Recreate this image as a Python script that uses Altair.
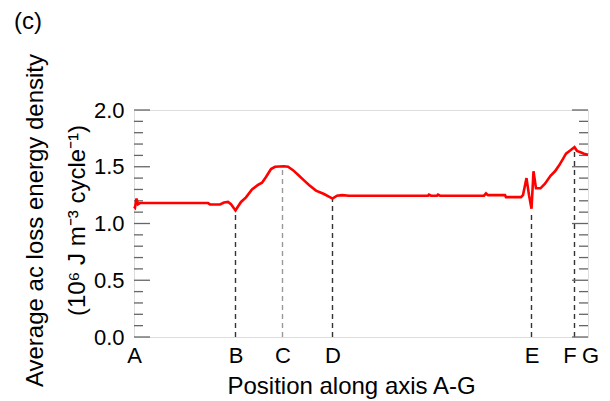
import altair as alt
import pandas as pd

# Curve: position along axis A-G (arbitrary units) and ac loss (10^6 J m^-3 cycle^-1)
pos = [0, 1, 2.5, 4, 6, 74, 76, 86, 90, 94, 97, 101.5, 104, 107, 112, 118, 124, 128,
       132, 137, 141, 150, 154, 159, 164, 170, 175, 182, 190, 198.5, 203, 208, 215,
       294, 295, 297, 303, 304, 306, 350, 352, 354, 371, 372, 387, 389, 392.5, 395,
       397.5, 399.5, 402, 406.5, 411, 416.5, 421, 425, 429, 432, 436.5, 440.5, 443,
       446.5, 450, 454]
loss = [1.15, 1.14, 1.22, 1.17, 1.18, 1.18, 1.168, 1.168, 1.185, 1.19, 1.17, 1.115,
        1.15, 1.19, 1.23, 1.30, 1.34, 1.36, 1.41, 1.48, 1.50, 1.505, 1.50, 1.47, 1.43,
        1.38, 1.34, 1.29, 1.26, 1.22, 1.245, 1.25, 1.245, 1.245, 1.255, 1.245, 1.245,
        1.255, 1.245, 1.245, 1.265, 1.25, 1.25, 1.232, 1.232, 1.25, 1.40, 1.25, 1.13,
        1.46, 1.31, 1.31, 1.35, 1.42, 1.46, 1.51, 1.57, 1.615, 1.645, 1.672, 1.64,
        1.628, 1.615, 1.605]

# Marked points along the axis
point_names = ["A", "B", "C", "D", "E", "F", "G"]
point_pos = [0, 101.5, 148.5, 198.5, 397.5, 440.5, 454]

# Dashed guide lines (from 0 up to the curve)
guide_pos = [101.5, 148.5, 198.5, 397.5, 440.5]
guide_top = [1.115, 1.50, 1.22, 1.11, 1.66]
guide_col = ["#333333", "#999999", "#333333", "#333333", "#333333"]

major_ticks = [0.0, 0.5, 1.0, 1.5, 2.0]
minor_ticks = [round(0.1 * i, 1) for i in range(21) if i % 5 != 0]

panel_label = ["(c)"]

W, H = 454, 227
FONT = "Liberation Sans"

curve_df = pd.DataFrame({"pos": pos, "loss": loss})
guide_df = pd.DataFrame({"pos": guide_pos, "top": guide_top, "col": guide_col})
major_df = pd.DataFrame({"v": major_ticks})
minor_df = pd.DataFrame({"v": minor_ticks})
panel_df = pd.DataFrame({"t": panel_label})

label_expr = " : ".join(
    f"datum.value == {p} ? '{n}'" for n, p in zip(point_names, point_pos)
) + " : ''"

xscale = alt.Scale(domain=[0, 454], nice=False, zero=False)
yscale = alt.Scale(domain=[0, 2.0], nice=False)

x_axis = alt.Axis(
    values=point_pos, labelExpr=label_expr, ticks=False, domain=False, grid=False,
    labelFlush=False, labelOverlap=False, labelFontSize=22, labelFont=FONT,
    labelColor="#000", labelPadding=8,
    labelOffset={"condition": [{"test": "datum.value == 440.5", "value": -5},
                               {"test": "datum.value == 454", "value": 2}],
                 "value": 0},
    title="Position along axis A-G", titleFontSize=24, titleFont=FONT,
    titleFontWeight="normal", titleColor="#000", titleX=217, titleY=56,
    titleBaseline="alphabetic",
)
y_axis = alt.Axis(
    values=major_ticks, format=".1f", ticks=False, domain=False, grid=False,
    labelFontSize=22, labelFont=FONT, labelColor="#000", labelPadding=10,
    title=["Average ac loss energy density", "(10⁶ J m⁻³ cycle⁻¹)"],
    titleFontSize=24, titleFont=FONT, titleFontWeight="normal", titleColor="#000",
    titleLineHeight=42, titleX=-92, titleY=110, titleAngle=-90,
    titleBaseline="alphabetic", titleAlign="center",
)

curve = alt.Chart(curve_df).mark_line(color="#ff0000", strokeWidth=2.6).encode(
    x=alt.X("pos:Q", scale=xscale, axis=x_axis),
    y=alt.Y("loss:Q", scale=yscale, axis=y_axis),
)

guides = alt.Chart(guide_df).mark_rule(strokeDash=[5, 4], strokeWidth=1.4).encode(
    x=alt.X("pos:Q", scale=xscale),
    y=alt.Y("zero:Q", scale=yscale),
    y2="top:Q",
    color=alt.Color("col:N", scale=None),
).transform_calculate(zero="0")

tick_color = "#666666"
left_major = alt.Chart(major_df).mark_rule(color=tick_color, strokeWidth=1.3).encode(
    y=alt.Y("v:Q", scale=yscale), x=alt.value(0), x2=alt.value(16))
left_minor = alt.Chart(minor_df).mark_rule(color=tick_color, strokeWidth=1.3).encode(
    y=alt.Y("v:Q", scale=yscale), x=alt.value(0), x2=alt.value(9))
right_major = alt.Chart(major_df).mark_rule(color=tick_color, strokeWidth=1.3).encode(
    y=alt.Y("v:Q", scale=yscale), x=alt.value(W), x2=alt.value(W - 16))
right_minor = alt.Chart(minor_df).mark_rule(color=tick_color, strokeWidth=1.3).encode(
    y=alt.Y("v:Q", scale=yscale), x=alt.value(W), x2=alt.value(W - 9))

panel = alt.Chart(panel_df).mark_text(
    fontSize=24, font=FONT, color="#000", align="left", baseline="alphabetic"
).encode(text="t:N", x=alt.value(-120), y=alt.value(-81))

chart = alt.layer(
    guides, left_major, left_minor, right_major, right_minor, curve, panel
).properties(
    width=W, height=H,
    autosize=alt.AutoSizeParams(type="none"),
    padding={"left": 134, "top": 110, "right": 22, "bottom": 64},
).configure_view(
    stroke="#888888", strokeWidth=2
).configure(background="white")

chart.save("out.html", embed_options={"renderer": "svg", "actions": False})
